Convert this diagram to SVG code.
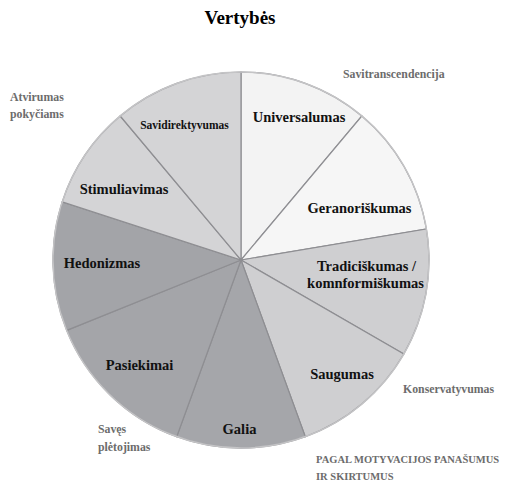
<svg xmlns="http://www.w3.org/2000/svg" width="513" height="481" viewBox="0 0 513 481">
<style>
text{font-family:"Liberation Serif","Times New Roman",serif;font-weight:bold}
.t{font-size:19px;fill:#000;text-anchor:middle}
.l{font-size:14.5px;fill:#111;text-anchor:middle}
.s{font-size:11.5px;fill:#111;text-anchor:middle}
.g{font-size:11.8px;fill:#6c6c6c}
.c{font-size:10.5px;fill:#6c6c6c}
.sl{stroke:#8e8e92;stroke-width:1.2}
</style>
<rect width="513" height="481" fill="#fff"/>
<text class="t" x="240" y="24">Vertybės</text>
<g id="pie">
<g id="universalumas"><path class="sl" fill="#f3f3f3" d="M241,260 L241,72 A188,188 0 0 1 361.8,116 Z"/><text class="l" x="299" y="122">Universalumas</text></g>
<g id="geranoriskumas"><path class="sl" fill="#f6f6f6" d="M241,260 L361.8,116 A188,188 0 0 1 426.4,229 Z"/><text class="l" x="359.5" y="213">Geranoriškumas</text></g>
<g id="tradiciskumas"><path class="sl" fill="#cfcfd1" d="M241,260 L426.4,229 A188,188 0 0 1 403.8,354 Z"/><text class="l" x="366.5" y="271">Tradiciškumas /</text><text class="l" x="365.5" y="288">komnformiškumas</text></g>
<g id="saugumas"><path class="sl" fill="#cfcfd1" d="M241,260 L403.8,354 A188,188 0 0 1 305.3,436.7 Z"/><text class="l" x="342" y="379">Saugumas</text></g>
<g id="galia"><path class="sl" fill="#a5a6aa" d="M241,260 L305.3,436.7 A188,188 0 0 1 176.7,436.7 Z"/><text class="l" x="239.5" y="434">Galia</text></g>
<g id="pasiekimai"><path class="sl" fill="#a4a5a9" d="M241,260 L176.7,436.7 A188,188 0 0 1 66.7,330.4 Z"/><text class="l" x="139.5" y="370">Pasiekimai</text></g>
<g id="hedonizmas"><path class="sl" fill="#a3a4a8" d="M241,260 L66.7,330.4 A188,188 0 0 1 62.2,201.9 Z"/><text class="l" x="102" y="268">Hedonizmas</text></g>
<g id="stimuliavimas"><path class="sl" fill="#d4d4d6" d="M241,260 L62.2,201.9 A188,188 0 0 1 120.2,116 Z"/><text class="l" x="124" y="194">Stimuliavimas</text></g>
<g id="savidirektyvumas"><path class="sl" fill="#d4d4d6" d="M241,260 L120.2,116 A188,188 0 0 1 241,72 Z"/><text class="s" x="184.5" y="129">Savidirektyvumas</text></g>
<circle cx="241" cy="260" r="188" fill="none" stroke="#c4c4c6" stroke-width="1.5"/>
</g>
<g id="groups">
<text class="g" x="343" y="78">Savitranscendencija</text>
<text class="g" x="10" y="101">Atvirumas</text>
<text class="g" x="10" y="118">pokyčiams</text>
<text class="g" x="403" y="393">Konservatyvumas</text>
<text class="g" x="98" y="433">Savęs</text>
<text class="g" x="98" y="451">plėtojimas</text>
<text class="c" x="316" y="463">PAGAL MOTYVACIJOS PANAŠUMUS</text>
<text class="c" x="316" y="480">IR SKIRTUMUS</text>
</g>
</svg>
